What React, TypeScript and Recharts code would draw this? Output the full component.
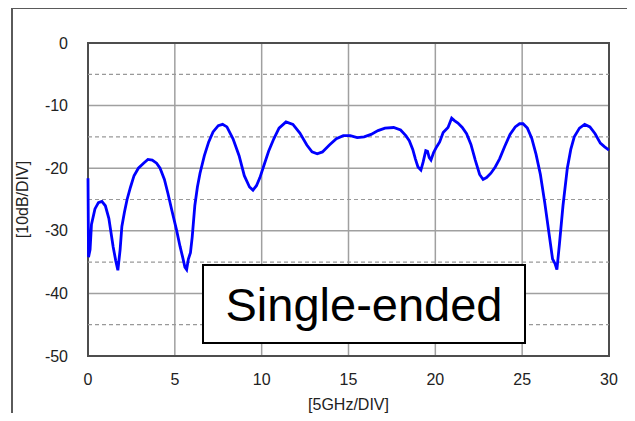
import { CartesianGrid, Line, LineChart, ReferenceArea, ReferenceLine, XAxis, YAxis } from 'recharts'

// frequency in GHz (x axis, 5 GHz per division)
const freqs = [
  0, 0.03, 0.12, 0.2, 0.4, 0.6, 0.8, 1.0, 1.2, 1.45, 1.6, 1.72, 1.85, 1.95, 2.1, 2.25, 2.45, 2.65, 2.9, 3.2,
  3.45, 3.7, 3.95, 4.15, 4.4, 4.6, 4.85, 5.1, 5.3, 5.45, 5.58, 5.68, 5.78, 5.9, 6.0, 6.15, 6.3, 6.45, 6.7, 6.95,
  7.2, 7.5, 7.75, 8.0, 8.35, 8.7, 9.0, 9.3, 9.5, 9.7, 9.9, 10.1, 10.4, 10.7, 11.0, 11.4, 11.8, 12.2, 12.6, 12.9,
  13.2, 13.5, 13.9, 14.3, 14.7, 15.1, 15.5, 15.9, 16.3, 16.7, 17.1, 17.6, 18.0, 18.3, 18.5, 18.7, 18.85, 19.0,
  19.17, 19.3, 19.45, 19.55, 19.65, 19.75, 19.9, 20.07, 20.25, 20.45, 20.73, 20.94, 21.1, 21.3, 21.55, 21.8,
  22.05, 22.3, 22.55, 22.75, 22.95, 23.2, 23.45, 23.7, 24.0, 24.3, 24.6, 24.85, 25.05, 25.3, 25.55, 25.8, 26.05,
  26.3, 26.55, 26.75, 26.9, 27.0, 27.15, 27.35, 27.6, 27.8, 28.0, 28.3, 28.6, 28.9, 29.2, 29.5, 29.75, 30,
]

// single-ended response in dB
const response = [
  -21.6, -34.2, -33, -29, -26.5, -25.5, -25.3, -26, -28, -32.6, -34.8, -36.3, -33, -29.3, -27, -25, -23, -21.2, -20, -19.2,
  -18.6, -18.7, -19.2, -20, -21.8, -24, -27, -29.9, -32.5, -34.2, -35.8, -36.2, -34.5, -33.5, -31, -26, -23, -20.8, -18, -15.8,
  -14.2, -13.2, -13.0, -13.4, -15.3, -18, -21.2, -23, -23.5, -22.8, -21.5, -19.8, -17.3, -15.3, -13.6, -12.6, -13.0, -14.4, -16.3, -17.4,
  -17.7, -17.4, -16.3, -15.3, -14.8, -14.8, -15.1, -15.0, -14.6, -14.0, -13.6, -13.5, -13.9, -14.8, -15.6, -17, -18.5, -19.8,
  -20.3, -19, -17.2, -17.3, -18.3, -18.7, -17.5, -16.6, -15.8, -14.3, -13.5, -12.0, -12.4, -12.8, -13.5, -14.5,
  -16.2, -18.7, -21, -21.8, -21.5, -20.8, -19.8, -18.5, -16.5, -14.6, -13.4, -12.9, -12.9, -13.6, -15.2, -17.8, -21,
  -25.5, -30.5, -34.5, -35.3, -36.2, -32, -26, -20, -17, -15, -13.6, -13.0, -13.4, -14.5, -16, -16.6, -17.1,
]

const xTicks = [0, 5, 10, 15, 20, 25, 30]
const yTicks = [-50, -40, -30, -20, -10, 0]
const halfDivs = [-5, -15, -25, -35, -45]

const data = freqs.map((f, i) => ({ f, s: response[i] }))

const font = '"Liberation Sans", Arial, sans-serif'
const tickStyle = { fill: '#222', fontSize: 16, fontFamily: font }

export default function App() {
  return (
    <div style={{ position: 'relative', width: 635, height: 421, margin: -8, overflow: 'hidden', background: '#fff', fontFamily: font }}>
      <div style={{ position: 'absolute', left: 11, top: 7, width: 700, height: 500, borderLeft: '2px solid #5a5a5a', borderTop: '2px solid #5a5a5a' }} />
      <LineChart width={635} height={421} data={data} margin={{ top: 43, right: 26, left: 0, bottom: 0 }} style={{ position: 'absolute', left: 0, top: 0 }}>
        <CartesianGrid stroke="#a0a0a0" strokeWidth={1.5} />
        {halfDivs.map((v) => (
          <ReferenceLine key={v} y={v} stroke="#999" strokeWidth={1.2} strokeDasharray="4 3" />
        ))}
        <XAxis
          dataKey="f"
          type="number"
          domain={[0, 30]}
          ticks={xTicks}
          height={65}
          tickLine={false}
          tickSize={0}
          tickMargin={18}
          axisLine={false}
          tick={tickStyle}
          label={{ value: '[5GHz/DIV]', position: 'insideBottom', offset: 11, fill: '#222', fontSize: 16, fontFamily: font }}
        />
        <YAxis
          type="number"
          domain={[-50, 0]}
          ticks={yTicks}
          width={88}
          tickLine={false}
          tickSize={0}
          tickMargin={20}
          axisLine={false}
          tick={tickStyle}
          label={({ viewBox }: any) => {
            const cx = viewBox.x + 22
            const cy = viewBox.y + viewBox.height / 2
            return (
              <text x={cx} y={cy} transform={`rotate(-90, ${cx}, ${cy})`} textAnchor="middle" dominantBaseline="central" fill="#222" fontSize={16} fontFamily={font}>
                [10dB/DIV]
              </text>
            )
          }}
        />
        <ReferenceArea x1={0} x2={30} y1={-50} y2={0} fill="none" stroke="#4d4d4d" strokeWidth={2} />
        <Line dataKey="s" type="linear" stroke="#0000ff" strokeWidth={2.8} dot={false} isAnimationActive={false} />
      </LineChart>
      <div
        style={{
          position: 'absolute',
          left: 202,
          top: 264,
          width: 324,
          height: 80,
          boxSizing: 'border-box',
          border: '2px solid #000',
          background: '#fff',
          display: 'flex',
          alignItems: 'center',
          justifyContent: 'center',
          fontSize: 47,
          lineHeight: 1,
          color: '#000',
        }}
      >
        Single-ended
      </div>
    </div>
  )
}
